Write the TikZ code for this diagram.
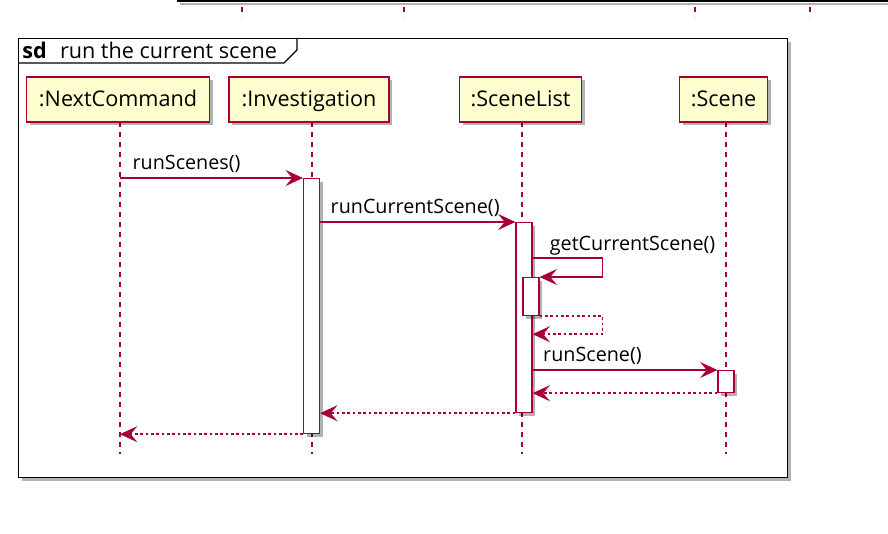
\documentclass[tikz,border=0pt]{standalone}
\usepackage{fontspec}
\setmainfont{Open Sans}
\usetikzlibrary{arrows.meta,shadows,calc}
\definecolor{puml}{HTML}{A80036}
\definecolor{pfill}{HTML}{FEFECE}
\begin{document}
\begin{tikzpicture}[x=0.75pt,y=-0.75pt,
  shd/.style={drop shadow={shadow xshift=2.5pt,shadow yshift=-2.5pt,opacity=0.3,fill=black}},
  part/.style={draw=puml,line width=1.1pt,fill=pfill,inner sep=0pt,minimum height=33.75pt,
    text height=12.5pt,text depth=1.5pt,
    font=\fontsize{16.2}{19}\selectfont,shd},
  framebox/.style={draw=black,line width=1.1pt,fill=white,inner sep=0pt,shd},
  life/.style={draw=puml,line width=0.9pt,dash pattern=on 3.75pt off 3.75pt},
  act/.style={draw=puml,line width=0.9pt,fill=white,inner sep=0pt,minimum width=12pt,shd},
  msg/.style={draw=puml,line width=0.95pt,-{Stealth[length=13pt,width=12pt,inset=5pt]}},
  ret/.style={msg,line width=1.1pt,dash pattern=on 2pt off 2pt},
  lbl/.style={font=\fontsize{14.8}{18}\selectfont,inner sep=0pt,anchor=base west}
]
\useasboundingbox (0,0) rectangle (888,534);
% remnant of the previous diagram
\coordinate (T0) at (177,1);
\coordinate (T1) at (888,1);
\draw[gray!60,line width=2pt] ($(T0)+(3,3)$) -- ($(T1)+(0,3)$);
\draw[black,line width=1.2pt] (T0) -- (T1);
\foreach \xx in {242,404,695,810}{
  \draw[life] (\xx,7) -- (\xx,17);
}
% frame
\node[framebox,anchor=north west,minimum width=576.75pt,minimum height=329.25pt] (frame) at (18,38) {};
\draw[black,line width=0.9pt] (18,63) -- (284,63) -- (297,50) -- (297,38);
\node[font=\fontsize{16.2}{19}\selectfont,inner sep=0pt,anchor=base west] (title) at (22,59)
  {\textbf{sd}\hspace{10pt}run the current scene};
% lifelines
\coordinate (L1) at (120,122); \coordinate (E1) at (120,454);
\coordinate (L2) at (312,122); \coordinate (E2) at (312,454);
\coordinate (L3) at (522,122); \coordinate (E3) at (522,454);
\coordinate (L4) at (726,122); \coordinate (E4) at (726,454);
\draw[life] (L1) -- (E1);
\draw[life] (L2) -- (E2);
\draw[life] (L3) -- (E3);
\draw[life] (L4) -- (E4);
% participants
\node[part,minimum width=137.25pt] (p1) at (118,99.5) {:NextCommand};
\node[part,minimum width=120pt] (p2) at (309,99.5) {:Investigation};
\node[part,minimum width=91.5pt] (p3) at (520.5,99.5) {:SceneList};
\node[part,minimum width=66pt] (p4) at (723.5,99.5) {:Scene};
% activations
\node[act,anchor=north,minimum height=191.25pt] (a1) at (311.5,178) {};
\node[act,anchor=north,minimum height=142.5pt] (a2) at (524,222) {};
\node[act,anchor=north,minimum height=28.5pt] (a2b) at (531,277) {};
\node[act,anchor=north,minimum height=16.5pt] (a3) at (726,370) {};
% messages
\draw[msg] (L1 |- a1.north) -- (a1.north west)
  node[lbl,pos=0,xshift=9pt,yshift=6.5pt] {runScenes()};
\draw[msg] (a1.east |- a2.north) -- (a2.north west)
  node[lbl,pos=0,xshift=7.5pt,yshift=6.5pt] {runCurrentScene()};
\draw[msg] ($(a2.north east)+(0,36)$) coordinate (s0) -- ++(70,0) -- ++(0,19) -- (a2b.north east);
\node[lbl] (gl) at ($(s0)+(17,-7)$) {getCurrentScene()};
\draw[ret] (a2b.south east) -- ++(63,0) -- ++(0,18) coordinate (r4) -- (a2.east |- r4);
\draw[msg] (a2.east |- a3.north) -- (a3.north west)
  node[lbl,pos=0,xshift=7.5pt,yshift=6.5pt] {runScene()};
\draw[ret] (a3.south west) -- (a2.east |- a3.south);
\draw[ret] (a2.south west) -- (a1.east |- a2.south);
\draw[ret] (a1.south west) -- (L1 |- a1.south);
\end{tikzpicture}
\end{document}
